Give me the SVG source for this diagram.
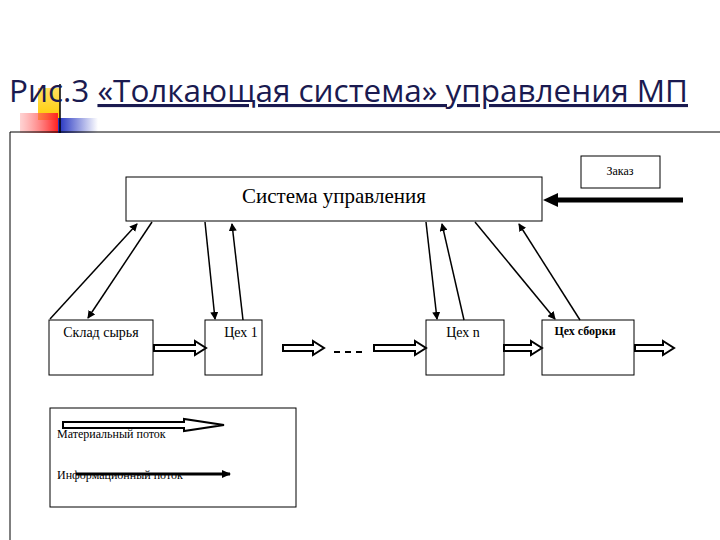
<svg xmlns="http://www.w3.org/2000/svg" width="720" height="540" viewBox="0 0 720 540">
<defs>
<style>
.box{fill:#fff;stroke:#000;stroke-width:1}
.t{font-family:"Liberation Serif",serif;fill:#000}
.ln{stroke:#000;stroke-width:1.5;fill:none;marker-end:url(#ah)}
.mat{fill:#fff;stroke:#000;stroke-width:2}
</style>
<marker id="ah" markerWidth="8" markerHeight="8" refX="7" refY="4" orient="auto" markerUnits="userSpaceOnUse"><path d="M0,0 L8,4 L0,8 Z" fill="#000"/></marker>
<linearGradient id="bl" x1="0" x2="1"><stop offset="0" stop-color="#2030c0"/><stop offset="1" stop-color="#2030c0" stop-opacity="0"/></linearGradient>
<linearGradient id="rd" x1="0" x2="1"><stop offset="0" stop-color="#ff9090" stop-opacity="0.4"/><stop offset="1" stop-color="#ff2020"/></linearGradient>
<linearGradient id="yl" x1="0" y1="0" x2="0" y2="1"><stop offset="0" stop-color="#ffe060"/><stop offset="1" stop-color="#ffcc00"/></linearGradient>
</defs>
<rect width="720" height="540" fill="#fff"/>
<g id="decor">
<rect x="38" y="88" width="22" height="32" fill="url(#yl)"/>
<rect x="20" y="113" width="38" height="20" fill="url(#rd)"/>
<rect x="58" y="118" width="40" height="15" fill="url(#bl)"/>
<line x1="60" y1="84" x2="60" y2="133" stroke="#000" stroke-width="1.5"/>
<line x1="10" y1="132" x2="720" y2="132" stroke="#000" stroke-width="1"/>
<line x1="10" y1="132" x2="10" y2="540" stroke="#000" stroke-width="1"/>
</g>
<text x="9" y="102" font-family="'Open Sans','Noto Sans',sans-serif" font-size="31" fill="#1a1a50" textLength="679" lengthAdjust="spacingAndGlyphs">Рис.3 <tspan text-decoration="underline">«Толкающая система» управления МП</tspan></text>
<g id="control"><rect class="box" x="126" y="177" width="416" height="44" stroke-width="2"/><text class="t" x="334" y="203" font-size="21" text-anchor="middle">Система управления</text></g>
<g id="order"><rect class="box" x="581" y="156" width="79" height="32"/><text class="t" x="620" y="175" font-size="12" text-anchor="middle">Заказ</text></g>
<g id="sklad"><rect class="box" x="49" y="320" width="104" height="55"/><text class="t" x="101" y="337" font-size="14" text-anchor="middle">Склад сырья</text></g>
<g id="ceh1"><rect class="box" x="205" y="320" width="57" height="55"/><text class="t" x="241" y="337" font-size="14" text-anchor="middle">Цех 1</text></g>
<g id="cehn"><rect class="box" x="426" y="320" width="78" height="55"/><text class="t" x="463" y="337" font-size="14" text-anchor="middle">Цех n</text></g>
<g id="cehsb"><rect class="box" x="542" y="320" width="92" height="55"/><text class="t" x="585" y="335" font-size="12" font-weight="bold" text-anchor="middle">Цех сборки</text></g>
<g id="legend"><rect class="box" x="50" y="408" width="246" height="99"/>
<path class="mat" d="M63,422 H184 V419 L224,425 L184,431 V428 H63 Z" stroke-width="1.5"/>
<text class="t" x="57" y="438" font-size="12">Материальный поток</text>
<line x1="76" y1="474" x2="230" y2="474" stroke="#000" stroke-width="3"/><path d="M222,470 L231,474 L222,478 Z"/>
<text class="t" x="57" y="479" font-size="12">Информационный поток</text>
</g>
<g id="connectors">
<line x1="683" y1="200" x2="556" y2="200" stroke="#000" stroke-width="5"/><path d="M543,200 L558,193 L558,207 Z"/>
<line class="ln" x1="50" y1="319" x2="137" y2="224"/>
<line class="ln" x1="152" y1="222" x2="88" y2="318"/>
<line class="ln" x1="205" y1="222" x2="215" y2="319"/>
<line class="ln" x1="243" y1="320" x2="232" y2="224"/>
<line class="ln" x1="426" y1="222" x2="437" y2="319"/>
<line class="ln" x1="464" y1="320" x2="442" y2="224"/>
<line class="ln" x1="475" y1="222" x2="555" y2="319"/>
<line class="ln" x1="580" y1="320" x2="519" y2="224"/>
<path class="mat" d="M154,345 H195 V341 L206,348 L195,355 V351 H154 Z"/>
<path class="mat" d="M283,345 H313 V341 L324,348 L313,355 V351 H283 Z"/>
<path class="mat" d="M374,345 H415 V341 L426,348 L415,355 V351 H374 Z"/>
<path class="mat" d="M504,345 H531 V341 L542,348 L531,355 V351 H504 Z"/>
<path class="mat" d="M635,345 H663 V341 L674,348 L663,355 V351 H635 Z"/>
<line x1="334" y1="352" x2="362" y2="352" stroke="#000" stroke-width="2" stroke-dasharray="6,5"/>
</g>
</svg>
